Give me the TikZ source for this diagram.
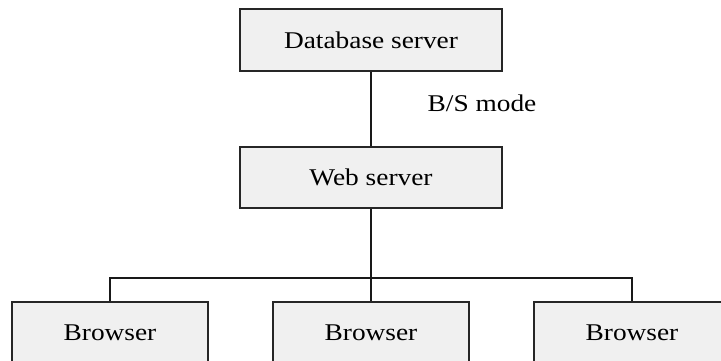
\documentclass[tikz,border=0pt]{standalone}
\usepackage{fontspec}
\setmainfont{Liberation Serif}
\begin{document}
\begin{tikzpicture}[x=1pt,y=1pt,
  box/.style={draw=black!85, line width=1.4pt, fill=black!6, minimum width=262pt, minimum height=62pt, inner sep=0pt, font=\fontsize{24}{28}\selectfont},
  bbox/.style={box, minimum width=196pt},
  wire/.style={draw=black!90, line width=1.4pt}]
\useasboundingbox (0,0) rectangle (721,361);
\clip (0,0) rectangle (721,361);
\node[box] (db) at (371,321) {\scalebox{1.14}[1]{Database server}};
\node[box, minimum height=61pt] (web) at (371,183.5) {\scalebox{1.14}[1]{Web server}};
\node[bbox] (b1) at (110,28) {\scalebox{1.14}[1]{Browser}};
\node[bbox] (b2) at (371,28) {\scalebox{1.14}[1]{Browser}};
\node[bbox] (b3) at (632,28) {\scalebox{1.14}[1]{Browser}};
\node[font=\fontsize{24}{28}\selectfont, inner sep=0pt] (mode) at (482,258) {\scalebox{1.14}[1]{B/S mode}};
\coordinate (bus) at (371,83);
\draw[wire] (db) -- (web);
\draw[wire] (web.south) -- (b2.north);
\draw[wire] (b1.north) |- (bus) -| (b3.north);
\end{tikzpicture}
\end{document}
